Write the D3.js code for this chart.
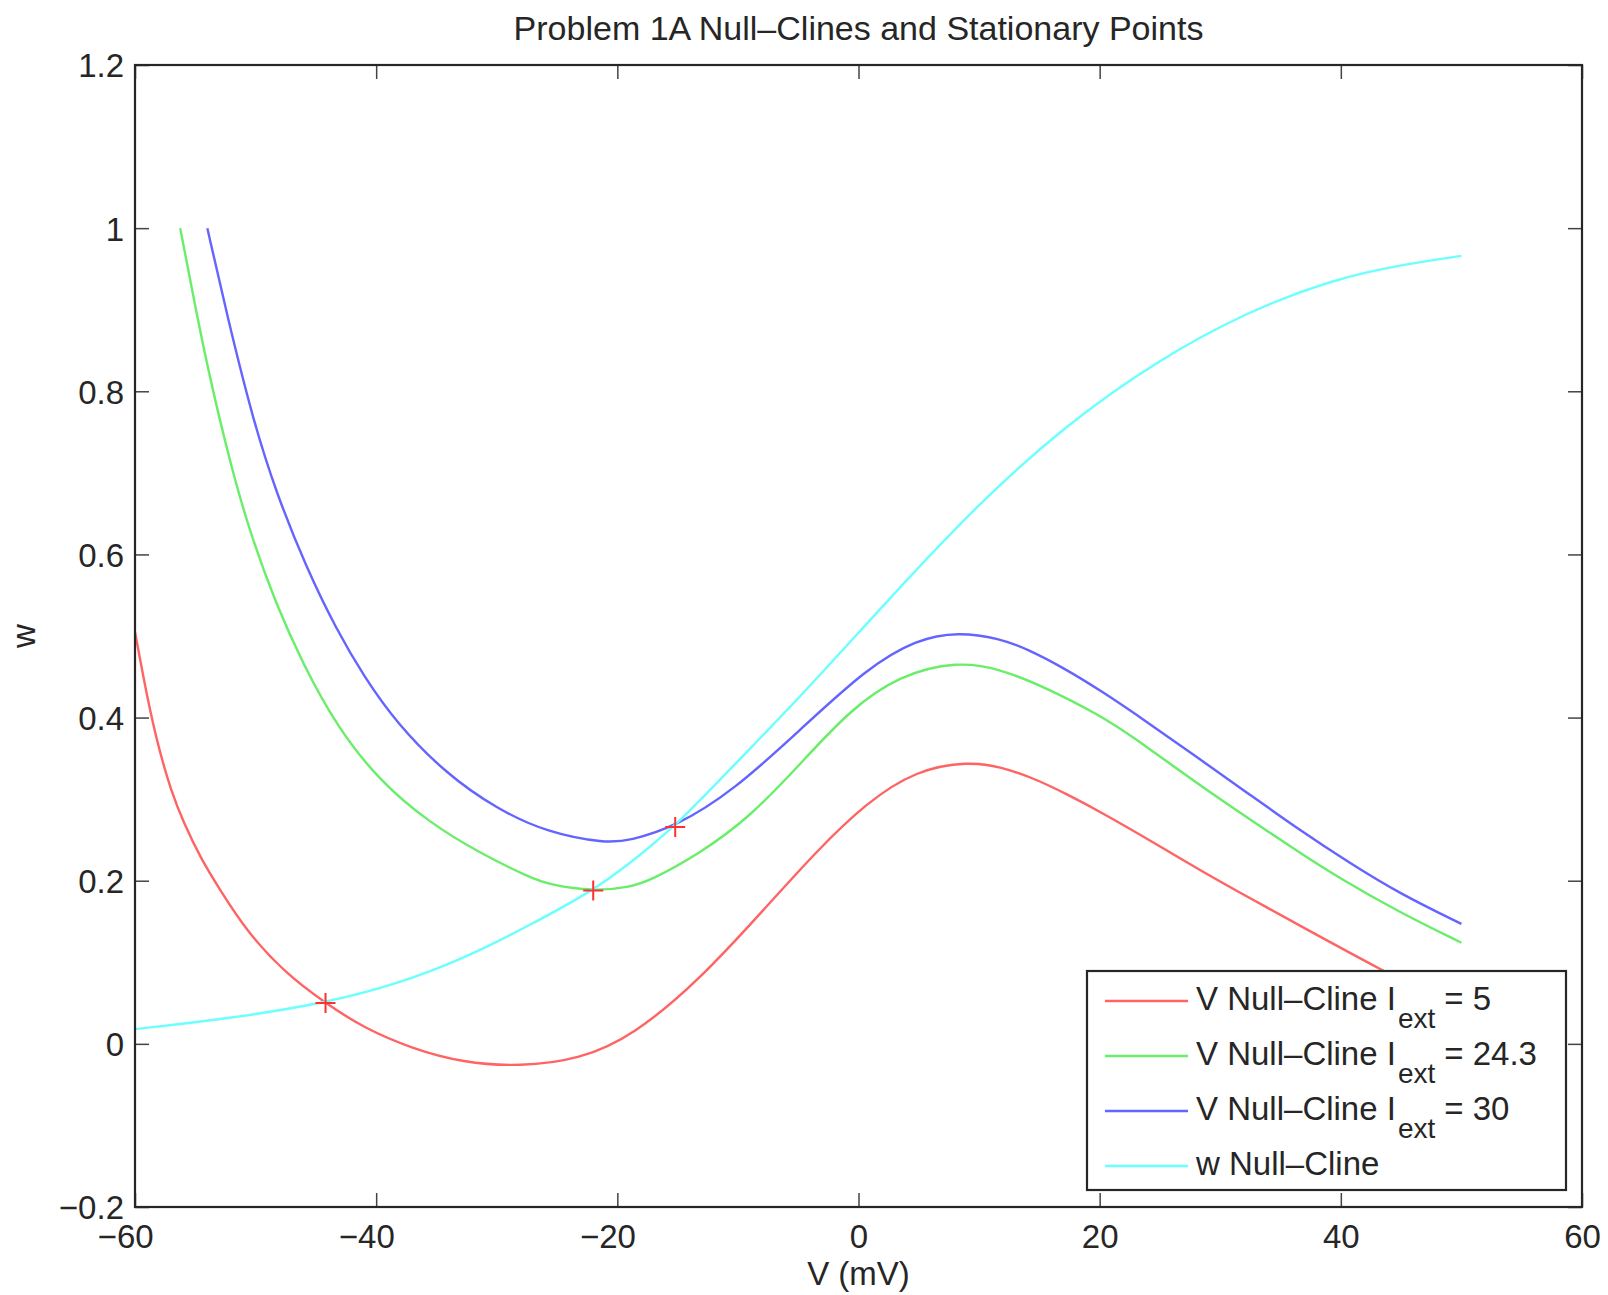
<!DOCTYPE html>
<meta charset="utf-8">
<script src="https://d3js.org/d3.v7.min.js"></script>
<style>
  body { margin: 0; background: #fff; }
  text { font-family: "Liberation Sans", Arial, Helvetica, sans-serif; fill: #262626; }
</style>
<div id="my_dataviz"></div>
<script>

// V null-cline, I_ext = 5   [V (mV), w]
var vNull5 = [[-60.0, 0.505], [-59.0, 0.425], [-58.0, 0.360], [-57.0, 0.310], [-56.0, 0.272],
  [-54.5, 0.226], [-53.0, 0.190], [-50.8, 0.139], [-47.5, 0.086], [-44.2, 0.050],
  [-41.1, 0.020], [-37.0, -0.006], [-32.8, -0.023], [-28.1, -0.028], [-23.1, -0.019],
  [-18.7, 0.010], [-13.2, 0.078], [-7.7, 0.167], [-3.5, 0.236], [0.6, 0.295], [4.8, 0.336],
  [9.2, 0.346], [11.7, 0.340], [14.5, 0.326], [17.3, 0.306], [20.0, 0.285], [24.7, 0.245],
  [28.3, 0.213], [32.9, 0.175], [36.6, 0.145], [43.3, 0.091], [50.0, 0.040]]

// V null-cline, I_ext = 24.3
var vNull243 = [[-56.25, 1.0], [-55.06, 0.908], [-53.82, 0.818], [-52.16, 0.715], [-50.5, 0.628],
  [-48.28, 0.538], [-46.08, 0.466], [-43.31, 0.390], [-39.72, 0.322], [-35.57, 0.271],
  [-31.43, 0.234], [-27.28, 0.204], [-25.6, 0.195], [-22.0, 0.187], [-19.0, 0.192],
  [-17.3, 0.200], [-13.2, 0.233], [-9.0, 0.278], [-4.9, 0.342], [-0.75, 0.409],
  [3.4, 0.452], [8.2, 0.469], [11.7, 0.460], [15.5, 0.437], [20.0, 0.403], [22.9, 0.375],
  [28.3, 0.317], [32.0, 0.280], [36.6, 0.234], [40.0, 0.202], [44.9, 0.161], [50.0, 0.124]]

// V null-cline, I_ext = 30
var vNull30 = [[-54.0, 1.0], [-52.4, 0.895], [-50.2, 0.764], [-48.3, 0.676], [-45.8, 0.584],
  [-43.3, 0.508], [-41.0, 0.450], [-38.3, 0.393], [-34.2, 0.331], [-30.0, 0.288],
  [-25.8, 0.259], [-21.0, 0.246], [-19.0, 0.249], [-15.2, 0.266], [-10.4, 0.310],
  [-4.9, 0.384], [0.65, 0.460], [4.8, 0.496], [8.3, 0.505], [11.7, 0.497], [14.0, 0.484],
  [17.0, 0.461], [20.0, 0.434], [24.0, 0.394], [28.3, 0.349], [32.5, 0.305], [36.6, 0.262],
  [40.7, 0.222], [44.9, 0.184], [50.0, 0.147]]

// w null-cline
var wNull = [[-60.0, 0.018], [-52.2, 0.031], [-44.2, 0.050], [-38.3, 0.073], [-32.8, 0.104],
  [-27.3, 0.145], [-22.0, 0.188], [-19.0, 0.221], [-15.2, 0.266], [-10.0, 0.347],
  [-4.9, 0.424], [2.5, 0.545], [9.9, 0.662], [17.3, 0.760], [24.7, 0.837], [32.1, 0.897],
  [39.5, 0.938], [45.0, 0.955], [50.0, 0.966]]

// stationary points (red +)
var stationary = [[-44.2, 0.050], [-22.0, 0.188], [-15.2, 0.266]]

var xTicks = [-60, -40, -20, 0, 20, 40, 60]
var yTicks = [-0.2, 0, 0.2, 0.4, 0.6, 0.8, 1, 1.2]

var seriesNames = ["V Null\u2013Cline I", "V Null\u2013Cline I", "V Null\u2013Cline I", "w Null\u2013Cline"]
var seriesIext = ["5", "24.3", "30", null]
var seriesColors = ["#ff6464", "#6aee6a", "#6464ff", "#6cffff"]

var W = 1608, H = 1295
var margin = {top: 65, right: 26, bottom: 88, left: 135}
var width = W - margin.left - margin.right
var height = H - margin.top - margin.bottom
var fontSize = "33px"

var svg = d3.select("#my_dataviz")
  .append("svg")
    .attr("width", W)
    .attr("height", H)

var g = svg.append("g")
  .attr("transform", "translate(" + margin.left + "," + margin.top + ")")

var x = d3.scaleLinear().domain([-60, 60]).range([0, width])
var y = d3.scaleLinear().domain([-0.2, 1.2]).range([height, 0])

function fmt(d) {
  var s = d3.format("~g")(Math.round(d * 10) / 10)
  return s.replace("-", "\u2212")
}

// axes with inward ticks on all four sides
var tick = 14
var xb = g.append("g").attr("transform", "translate(0," + height + ")")
  .call(d3.axisBottom(x).tickValues(xTicks).tickSizeInner(-tick).tickSizeOuter(0).tickPadding(18).tickFormat(fmt))
xb.selectAll("text").attr("dx", function(d){ return d < 0 ? "-0.3em" : 0 })
g.append("g")
  .call(d3.axisTop(x).tickValues(xTicks).tickSizeInner(-tick).tickSizeOuter(0).tickFormat(""))
g.append("g")
  .call(d3.axisLeft(y).tickValues(yTicks).tickSizeInner(-tick).tickSizeOuter(0).tickPadding(11).tickFormat(fmt))
  .selectAll("text").attr("dy", "0.36em")
g.append("g").attr("transform", "translate(" + width + ",0)")
  .call(d3.axisRight(y).tickValues(yTicks).tickSizeInner(-tick).tickSizeOuter(0).tickFormat(""))

g.selectAll(".domain").remove()
g.selectAll(".tick line").attr("stroke", "#444").attr("stroke-width", 1.5)
g.selectAll(".tick text").style("font-size", fontSize).style("fill", "#262626")

// curves
var line = d3.line()
  .x(function(d){ return x(d[0]) })
  .y(function(d){ return y(d[1]) })
  .curve(d3.curveBasis)

var allSeries = [vNull5, vNull243, vNull30, wNull]

g.selectAll("path.curve")
  .data(allSeries)
  .enter()
  .append("path")
    .attr("class", "curve")
    .attr("d", line)
    .attr("fill", "none")
    .attr("stroke", function(d, i){ return seriesColors[i] })
    .attr("stroke-width", 2.4)

// stationary points drawn as "+" markers
var plus = {
  draw: function(context, size) {
    var r = Math.sqrt(size) / 2
    context.moveTo(-r, 0); context.lineTo(r, 0)
    context.moveTo(0, -r); context.lineTo(0, r)
  }
}
g.selectAll("path.marker")
  .data(stationary)
  .enter()
  .append("path")
    .attr("class", "marker")
    .attr("d", d3.symbol().type(plus).size(400))
    .attr("transform", function(d){ return "translate(" + x(d[0]) + "," + y(d[1]) + ")" })
    .attr("fill", "none")
    .attr("stroke", "#ff3030")
    .attr("stroke-width", 2)

// box
g.append("rect")
  .attr("width", width)
  .attr("height", height)
  .attr("fill", "none")
  .attr("stroke", "#262626")
  .attr("stroke-width", 2.2)

// title and axis labels
svg.append("text")
  .attr("x", margin.left + width / 2)
  .attr("y", 40)
  .attr("text-anchor", "middle")
  .style("font-size", "34px")
  .text("Problem 1A Null\u2013Clines and Stationary Points")

svg.append("text")
  .attr("x", margin.left + width / 2)
  .attr("y", 1285)
  .attr("text-anchor", "middle")
  .style("font-size", fontSize)
  .text("V (mV)")

svg.append("text")
  .attr("transform", "translate(35," + (margin.top + height / 2) + ") rotate(-90)")
  .attr("text-anchor", "middle")
  .style("font-size", fontSize)
  .text("w")

// legend
var legend = svg.append("g").attr("transform", "translate(1087,971)")
legend.append("rect")
  .attr("width", 479)
  .attr("height", 219)
  .attr("fill", "#fff")
  .attr("stroke", "#262626")
  .attr("stroke-width", 2.2)

var rows = legend.selectAll("g.row")
  .data(seriesNames)
  .enter()
  .append("g")
    .attr("class", "row")
    .attr("transform", function(d, i){ return "translate(0," + (30 + i * 55) + ")" })

rows.append("line")
  .attr("x1", 18).attr("x2", 101)
  .attr("y1", 0).attr("y2", 0)
  .attr("stroke", function(d, i){ return seriesColors[i] })
  .attr("stroke-width", 2.4)

var lt = rows.append("text")
  .attr("x", 109)
  .attr("y", 9)
  .style("font-size", fontSize)

lt.append("tspan").text(function(d){ return d })
lt.each(function(d, i) {
  if (seriesIext[i] === null) return
  var t = d3.select(this)
  t.append("tspan").attr("dy", 18).attr("dx", 2).style("font-size", "28px").text("ext")
  t.append("tspan").attr("dy", -18).attr("dx", 9).text("= " + seriesIext[i])
})

</script>
